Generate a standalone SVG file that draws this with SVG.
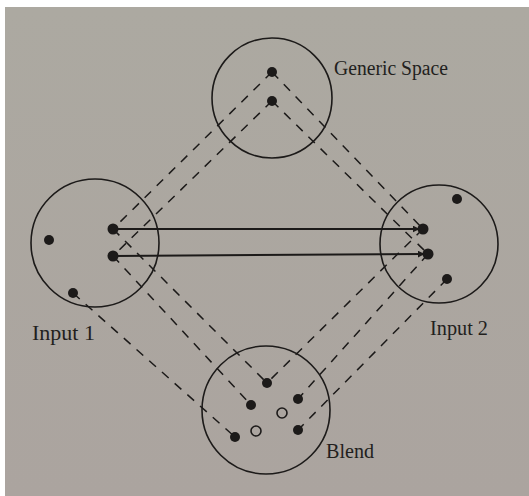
<svg xmlns="http://www.w3.org/2000/svg" width="529" height="496" viewBox="0 0 529 496">
<defs>
<linearGradient id="bg" x1="0" y1="0" x2="0" y2="1">
<stop offset="0" stop-color="#aca9a1"/>
<stop offset="1" stop-color="#aba49f"/>
</linearGradient>
<marker id="arr" viewBox="0 0 10 10" refX="9" refY="5" markerWidth="7" markerHeight="7" markerUnits="userSpaceOnUse" orient="auto">
<path d="M0,0 L10,5 L0,10 z" fill="#1c1a19"/>
</marker>
<style>
.ring{fill:none;stroke:#1c1a19;stroke-width:1.6}
.dot{fill:#1c1a19}
.hol{fill:none;stroke:#1c1a19;stroke-width:1.6}
.dash{stroke:#1c1a19;stroke-width:1.5;stroke-dasharray:9 8;fill:none}
.solid{stroke:#1c1a19;stroke-width:2;fill:none}
.lbl{font-family:"Liberation Serif","Times New Roman",serif;font-size:20px;fill:#221f1d}
</style>
</defs>
<rect x="0" y="0" width="529" height="496" fill="#ffffff"/>
<rect x="5" y="7" width="524" height="489" fill="url(#bg)"/>
<g id="connectors">
<line class="dash" x1="272" y1="72" x2="113" y2="229"/>
<line class="dash" x1="272" y1="72" x2="423" y2="229"/>
<line class="dash" x1="272" y1="101" x2="113" y2="256"/>
<line class="dash" x1="272" y1="101" x2="428" y2="254"/>
<line class="dash" x1="113" y1="229" x2="267" y2="383"/>
<line class="dash" x1="423" y1="229" x2="267" y2="383"/>
<line class="dash" x1="113" y1="256" x2="251" y2="405"/>
<line class="dash" x1="428" y1="254" x2="298" y2="399"/>
<line class="dash" x1="73" y1="293" x2="235" y2="437"/>
<line class="dash" x1="447" y1="279" x2="298" y2="430"/>
<line class="solid" x1="113" y1="229" x2="419" y2="229" marker-end="url(#arr)"/>
<line class="solid" x1="113" y1="256" x2="424" y2="254" marker-end="url(#arr)"/>
</g>
<g id="generic-space">
<circle class="ring" cx="272" cy="98" r="60"/>
<circle class="dot" cx="272" cy="72" r="5"/>
<circle class="dot" cx="272" cy="101" r="5"/>
<text class="lbl" x="334" y="75" textLength="114" lengthAdjust="spacingAndGlyphs">Generic Space</text>
</g>
<g id="input-1">
<circle class="ring" cx="95" cy="243" r="64"/>
<circle class="dot" cx="49" cy="240" r="5"/>
<circle class="dot" cx="113" cy="229" r="5.5"/>
<circle class="dot" cx="113" cy="256" r="5.5"/>
<circle class="dot" cx="73" cy="293" r="5"/>
<text class="lbl" x="32" y="340" textLength="63" lengthAdjust="spacingAndGlyphs">Input 1</text>
</g>
<g id="input-2">
<circle class="ring" cx="439" cy="244" r="59"/>
<circle class="dot" cx="457" cy="199" r="5"/>
<circle class="dot" cx="423" cy="229" r="5.5"/>
<circle class="dot" cx="428" cy="254" r="5.5"/>
<circle class="dot" cx="447" cy="279" r="5"/>
<text class="lbl" x="430" y="335" textLength="58" lengthAdjust="spacingAndGlyphs">Input 2</text>
</g>
<g id="blend">
<circle class="ring" cx="266" cy="410" r="64"/>
<circle class="dot" cx="267" cy="383" r="5"/>
<circle class="dot" cx="251" cy="405" r="5"/>
<circle class="dot" cx="298" cy="399" r="5"/>
<circle class="hol" cx="282" cy="413" r="5"/>
<circle class="hol" cx="256" cy="431" r="5"/>
<circle class="dot" cx="235" cy="437" r="5"/>
<circle class="dot" cx="298" cy="430" r="5"/>
<text class="lbl" x="326" y="458" textLength="48" lengthAdjust="spacingAndGlyphs">Blend</text>
</g>
</svg>
